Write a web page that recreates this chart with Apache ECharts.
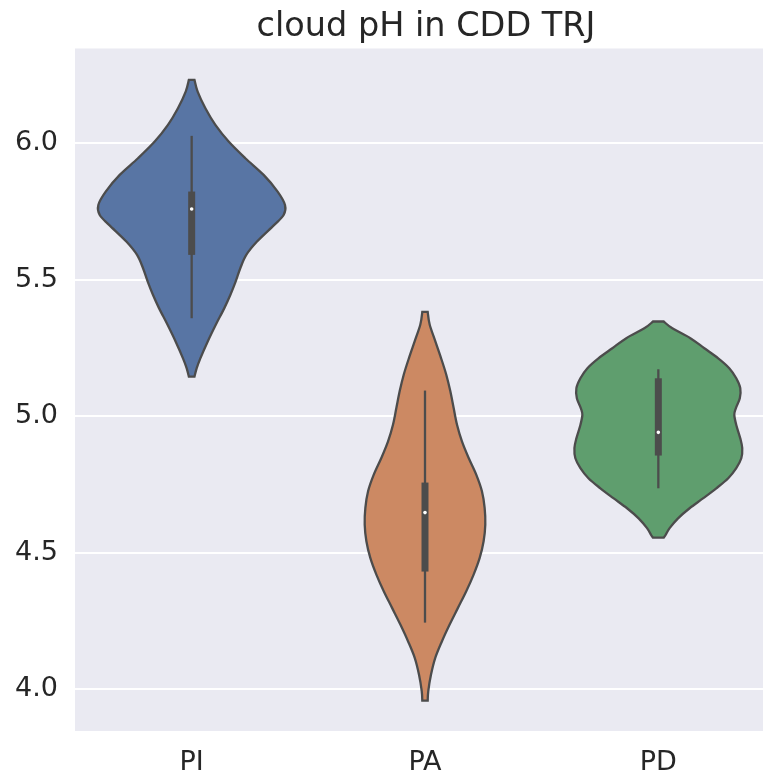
<!DOCTYPE html>
<html>
<head>
<meta charset="utf-8">
<script src="https://cdn.jsdelivr.net/npm/echarts@6/dist/echarts.min.js"></script>
<style>html,body{margin:0;padding:0;background:#fff;}#c{width:763px;height:778px;}</style>
</head>
<body>
<div id="c"></div>
<script>
const categories = ['PI', 'PA', 'PD'];
const yTicks = [4.0, 4.5, 5.0, 5.5, 6.0];

// violin outline: value positions and half-width (fraction of max half-width)
const piY = [6.232, 6.189, 6.128, 6.067, 6.006, 5.945, 5.884, 5.823, 5.774, 5.737, 5.701, 5.640, 5.591, 5.542, 5.493, 5.444, 5.396, 5.334, 5.273, 5.212, 5.176, 5.145];
const piW = [0.03, 0.064, 0.147, 0.254, 0.396, 0.575, 0.771, 0.921, 1.0, 0.985, 0.885, 0.700, 0.585, 0.521, 0.471, 0.414, 0.350, 0.257, 0.171, 0.093, 0.054, 0.03];

const paY = [5.382, 5.336, 5.275, 5.214, 5.152, 5.092, 5.030, 4.969, 4.908, 4.847, 4.786, 4.725, 4.664, 4.603, 4.542, 4.481, 4.420, 4.359, 4.298, 4.237, 4.176, 4.115, 4.053, 3.993, 3.958];
const paW = [0.029, 0.05, 0.11, 0.171, 0.228, 0.271, 0.307, 0.343, 0.396, 0.468, 0.549, 0.610, 0.639, 0.646, 0.628, 0.586, 0.521, 0.442, 0.353, 0.264, 0.182, 0.110, 0.064, 0.035, 0.029];

const pdY = [5.347, 5.322, 5.286, 5.249, 5.212, 5.176, 5.139, 5.103, 5.066, 5.029, 5.005, 4.968, 4.919, 4.883, 4.846, 4.810, 4.773, 4.736, 4.700, 4.663, 4.626, 4.590, 4.565, 4.555];
const pdW = [0.057, 0.15, 0.343, 0.493, 0.642, 0.760, 0.835, 0.878, 0.873, 0.830, 0.814, 0.835, 0.878, 0.899, 0.889, 0.835, 0.749, 0.621, 0.482, 0.335, 0.211, 0.121, 0.078, 0.057];

// box: [whisker low, q1, median, q3, whisker high]
const piBox = [5.359, 5.591, 5.759, 5.823, 6.027];
const paBox = [4.244, 4.431, 4.647, 4.757, 5.094];
const pdBox = [4.736, 4.856, 4.941, 5.139, 5.172];

const colors = ['#5875a4', '#cc8963', '#5f9e6e'];
const violins = [
  { y: piY, w: piW, box: piBox },
  { y: paY, w: paW, box: paBox },
  { y: pdY, w: pdW, box: pdBox }
];

function crPath(pts) {
  let d = '';
  for (let i = 0; i < pts.length - 1; i++) {
    const p0 = pts[Math.max(0, i - 1)], p1 = pts[i], p2 = pts[i + 1], p3 = pts[Math.min(pts.length - 1, i + 2)];
    const c1 = [p1[0] + (p2[0] - p0[0]) / 6, p1[1] + (p2[1] - p0[1]) / 6];
    const c2 = [p2[0] - (p3[0] - p1[0]) / 6, p2[1] - (p3[1] - p1[1]) / 6];
    d += ' C' + c1[0] + ',' + c1[1] + ' ' + c2[0] + ',' + c2[1] + ' ' + p2[0] + ',' + p2[1];
  }
  return d;
}

const outline = '#4c4c4c';
const chart = echarts.init(document.getElementById('c'));
chart.setOption({
  animation: false,
  backgroundColor: '#ffffff',
  title: {
    text: 'cloud pH in CDD TRJ',
    left: 421, textAlign: 'center', top: 5,
    textStyle: { fontFamily: 'DejaVu Sans', fontSize: 33.5, fontWeight: 'normal', color: '#262626' }
  },
  grid: { left: 75, top: 48.5, width: 700, bottom: 47, outerBoundsMode: 'none', containLabel: false, show: true, backgroundColor: '#eaeaf2', borderWidth: 0 },
  xAxis: {
    type: 'category', data: categories, boundaryGap: true,
    axisLine: { show: false }, axisTick: { show: false }, splitLine: { show: false },
    axisLabel: { fontFamily: 'DejaVu Sans', fontSize: 27, color: '#262626', margin: 18 }
  },
  yAxis: {
    type: 'value', min: 3.847, max: 6.347, splitNumber: 5,
    axisLine: { show: false }, axisTick: { show: false },
    splitLine: { show: true, showMinLine: false, showMaxLine: false, lineStyle: { color: '#ffffff', width: 2 } },
    axisLabel: {
      fontFamily: 'DejaVu Sans', fontSize: 27, color: '#262626', margin: 17,
      showMinLabel: false, showMaxLabel: false,
      formatter: function (v) { return yTicks.some(t => Math.abs(t - v) < 1e-6) ? v.toFixed(1) : ''; }
    }
  },
  series: [{
    type: 'custom',
    data: categories.map((c, i) => [i, violins[i].box[2]]),
    encode: { x: 0, y: 1 },
    renderItem: function (params, api) {
      const i = params.dataIndex;
      const v = violins[i];
      const band = api.size([1, 0])[0];
      const maxHalf = band * 0.4;
      const cx = api.coord([i, v.box[2]])[0];
      const right = v.y.map((y, k) => [cx + v.w[k] * maxHalf, api.coord([i, y])[1]]);
      const left = right.slice().reverse().map(p => [2 * cx - p[0], p[1]]);
      let d = 'M' + right[0][0] + ',' + right[0][1] + crPath(right);
      d += ' L' + left[0][0] + ',' + left[0][1] + crPath(left) + ' Z';
      const yv = k => api.coord([i, v.box[k]])[1];
      return {
        type: 'group',
        children: [
          { type: 'path', shape: { pathData: d }, style: { fill: colors[i], stroke: outline, lineWidth: 2.3 } },
          { type: 'line', shape: { x1: cx, y1: yv(0), x2: cx, y2: yv(4) }, style: { stroke: outline, lineWidth: 2.3 } },
          { type: 'line', shape: { x1: cx, y1: yv(1), x2: cx, y2: yv(3) }, style: { stroke: outline, lineWidth: 7, lineCap: 'butt' } },
          { type: 'circle', shape: { cx: cx, cy: yv(2), r: 1.8 }, style: { fill: '#ffffff' } }
        ]
      };
    }
  }]
});
</script>
</body>
</html>
